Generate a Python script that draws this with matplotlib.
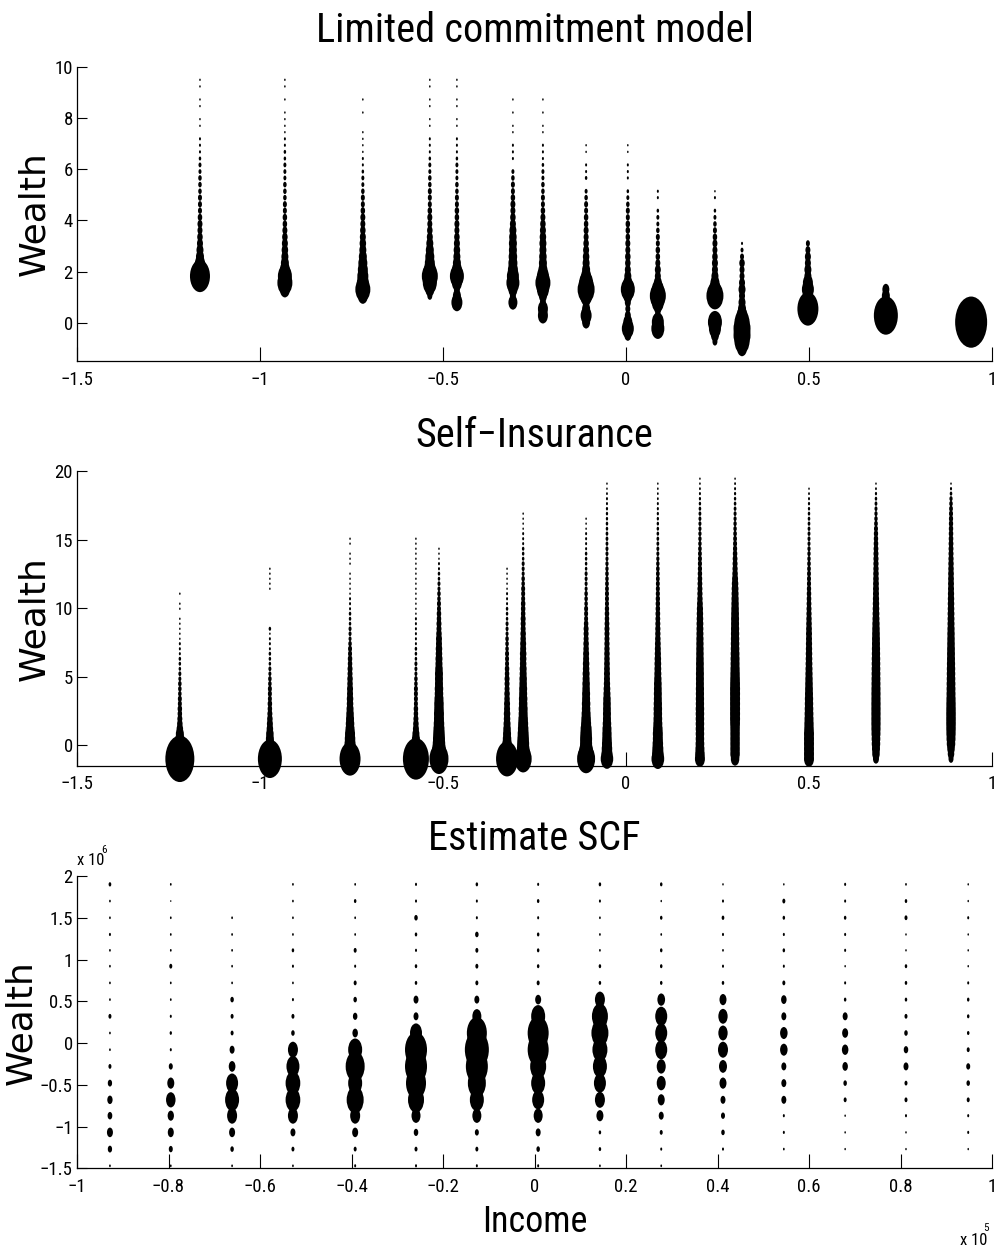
import numpy as np
import matplotlib
matplotlib.use("Agg")
import matplotlib.pyplot as plt
from matplotlib.path import Path
from matplotlib.transforms import Affine2D
from matplotlib.ticker import FixedLocator, FuncFormatter

# ---------------------------------------------------------------------------
# Limited commitment model: wealth grid, income states, density per cell
# ---------------------------------------------------------------------------
lc_wealth = [-1.00, -0.74, -0.49, -0.23, 0.02, 0.28, 0.54, 0.79, 1.05, 1.30,
             1.56, 1.82, 2.07, 2.33, 2.58, 2.84, 3.10, 3.35, 3.61, 3.86,
             4.12, 4.38, 4.63, 4.89, 5.14, 5.40, 5.66, 5.91, 6.17, 6.42,
             6.68, 6.94, 7.19, 7.45, 7.70, 7.96, 8.22, 8.47, 8.73, 8.98,
             9.24, 9.50]
lc_income = [-1.164, -0.932, -0.719, -0.536, -0.462, -0.309, -0.227, -0.109,
             0.005, 0.087, 0.243, 0.317, 0.497, 0.710, 0.943]
lc_density = [
    [0, 0, 0, 0, 0, 0, 0, 0, 0, 0, 10, 20, 14, 10, 8, 7, 6, 5.5, 5, 5, 4.5, 4, 4, 4,
     3.5, 3.5, 3.5, 3, 3, 2.5, 2, 2, 2, 0, 1.5, 1.5, 0, 1.5, 1.5, 0, 1.5, 1.5],
    [0, 0, 0, 0, 0, 0, 0, 0, 0, 10, 15, 14, 10, 8, 7, 6.5, 6, 5.5, 5, 4.5, 4.5, 4, 4,
     3.5, 3.5, 3.5, 3, 3, 3, 2.5, 2.5, 2, 2, 1.5, 1.5, 1.5, 1.5, 0, 1.5, 0, 1.5, 1.5],
    [0, 0, 0, 0, 0, 0, 0, 0, 10, 15, 12, 11, 10, 9, 8, 7, 6.5, 6, 5.5, 5, 5, 4.5, 4,
     4, 3.5, 3, 3, 2.5, 2, 2, 1.5, 1.5, 1.5, 1.5, 0, 0, 1.5, 0, 1.5],
    [0, 0, 0, 0, 0, 0, 0, 0, 5, 9, 14, 16, 12, 10, 9, 8, 7, 6, 5.5, 5, 5, 4.5, 4, 4,
     4, 3.5, 3.5, 3, 3, 2.5, 2, 2, 2, 0, 1.5, 1.5, 0, 1.5, 1.5, 0, 1.5, 1.5],
    [0, 0, 0, 0, 0, 0, 0, 11, 8, 6, 10, 14, 10, 8, 7, 6.5, 6, 5.5, 5, 5, 4.5, 4.5, 4,
     4, 3.5, 3.5, 3, 3, 3, 2.5, 2, 2, 2, 0, 1.5, 1.5, 0, 1.5, 1.5, 0, 1.5, 1.5],
    [0, 0, 0, 0, 0, 0, 0, 9, 6, 9, 13, 12, 10, 9, 8.5, 8, 8, 7.5, 7, 6, 5.5, 5, 5,
     4.5, 4, 4, 3.5, 3, 0, 2, 2, 2, 0, 1.5, 1.5, 0, 1.5, 0, 1.5],
    [0, 0, 0, 0, 0, 10, 10, 6, 8, 12, 15, 12, 9, 8, 7.5, 7, 7, 6.5, 6, 5.5, 5, 4.5,
     4, 4, 3.5, 3.5, 3, 3, 2.5, 2, 2, 2, 0, 1.5, 1.5, 0, 1.5, 0, 1.5],
    [0, 0, 0, 0, 8, 11, 8, 7, 12, 17, 14, 10, 8, 7, 6.5, 6, 5.5, 5, 5, 4.5, 4.5, 4,
     4, 3.5, 3, 0, 2.5, 2, 2, 0, 1.5, 1.5],
    [0, 0, 7, 12, 9, 6, 5, 6, 9, 14, 9, 7, 6, 5.5, 5.5, 5, 5, 4.5, 4.5, 4.5, 4, 4,
     3.5, 3, 2.5, 0, 2, 2, 2, 0, 1.5, 1.5],
    [0, 0, 0, 13, 12, 6, 7, 12, 16, 12, 8, 6, 6, 5, 4.5, 4.5, 4, 4, 3.5, 3, 3, 2.5,
     0, 2, 2],
    [0, 5, 8, 12, 14, 0, 0, 8, 17, 12, 9, 7, 6, 6, 5.5, 5, 5, 4.5, 4, 3.5, 3, 2.5, 0,
     2, 1.5],
    [10, 15, 17, 17, 15, 11, 8, 7, 6, 7, 6, 5, 5, 5.5, 4, 3, 2],
    [0, 0, 0, 0, 0, 0, 21, 14, 10, 12, 10, 7, 7, 6, 6, 5, 4],
    [0, 0, 0, 0, 0, 24, 12, 8, 8, 7],
    [0, 0, 0, 0, 32],
]

# ---------------------------------------------------------------------------
# Self-insurance model
# ---------------------------------------------------------------------------
si_wealth = [-1.00, -0.64, -0.27, 0.10, 0.46, 0.83, 1.19, 1.56, 1.92, 2.29,
             2.65, 3.02, 3.38, 3.75, 4.11, 4.48, 4.84, 5.21, 5.57, 5.94,
             6.30, 6.67, 7.03, 7.40, 7.76, 8.13, 8.49, 8.86, 9.22, 9.59,
             9.95, 10.32, 10.68, 11.05, 11.41, 11.78, 12.14, 12.51, 12.87, 13.24,
             13.60, 13.97, 14.33, 14.70, 15.06, 15.43, 15.79, 16.16, 16.52, 16.89,
             17.25, 17.62, 17.98, 18.35, 18.71, 19.08, 19.44]
si_income = [-1.219, -0.973, -0.754, -0.574, -0.511, -0.325, -0.281, -0.109,
             -0.052, 0.087, 0.202, 0.298, 0.500, 0.683, 0.888]
si_density = [
    [29, 16, 12, 10, 9, 8, 6.5, 5.5, 5, 4.5, 4.5, 4, 4, 3.5, 3.5, 3.5, 3, 3, 2.5,
     2.5, 2.5, 2, 2, 2, 1.5, 1.5, 1.5, 1.5, 1.5, 0, 1.5, 1.5, 0, 1.5],
    [24, 14, 11, 9, 8, 7.5, 6.5, 6, 5.5, 5, 4.5, 4.5, 4, 4, 4, 3.5, 3.5, 3, 3, 2.5,
     2.5, 2.5, 2, 2, 2, 1.5, 2.5, 0, 0, 0, 0, 0, 0, 0, 1.5, 1.5, 1.5, 1.5, 1.5],
    [21, 14, 12, 11, 10.5, 10, 9, 8.5, 8, 7.5, 7, 6.5, 6.5, 6, 6, 5.5, 5.5, 5, 5,
     4.5, 4.5, 4, 4, 3.5, 3, 3, 3, 2.5, 2.5, 2.5, 2, 2, 2, 1.5, 1.5, 1.5, 1.5, 1.5,
     0, 1.5, 1.5, 1.5, 0, 1.5, 1.5],
    [26, 15, 11, 9, 8, 7, 6, 5.5, 5, 4.5, 4.5, 4, 4, 4, 4, 3.5, 3.5, 3, 3, 3, 2.5,
     2.5, 2.5, 2, 2, 2, 2, 2, 2, 1.5, 1.5, 1.5, 1.5, 1.5, 1.5, 1.5, 1.5, 1.5, 1.5,
     1.5, 1.5, 1.5, 1.5, 1.5, 1.5],
    [19, 15, 13.5, 12.5, 12, 11.5, 11, 10.5, 10, 10, 9.5, 9.5, 9, 8.5, 8.5, 8, 8, 8,
     7.5, 7, 7, 6.5, 6.5, 6, 6, 5.5, 5, 5, 4.5, 4.5, 4, 4, 3.5, 3.5, 3, 3, 2.5, 2.5,
     2, 2, 1.5, 1.5, 1.5],
    [22, 14, 11, 9.5, 8.5, 8, 7.5, 7, 6.5, 6.5, 6, 6, 5.5, 5.5, 5, 5, 5, 4.5, 4.5,
     4, 4, 4, 3.5, 3.5, 3.5, 3, 3, 3, 2.5, 2.5, 2.5, 2, 2, 2, 1.5, 1.5, 1.5, 1.5,
     1.5],
    [17, 14, 12.5, 12, 11.5, 11, 10.5, 10, 9.5, 9, 9, 8.5, 8.5, 8, 8, 7.5, 7.5, 7,
     7, 6.5, 6.5, 6.5, 6, 6, 5.5, 5.5, 5, 5, 5, 4.5, 4.5, 4.5, 4, 4, 4, 3.5, 3.5, 3,
     3, 3, 2.5, 2.5, 2.5, 2, 2, 2, 1.5, 1.5, 1.5, 1.5],
    [18, 15, 13, 12, 12, 11.5, 11, 10, 9.5, 9, 8.5, 8.5, 8, 8, 7.5, 7.5, 7, 7, 6.5,
     6.5, 6, 6, 5.5, 5.5, 5, 5, 5, 4.5, 4, 4, 4, 3.5, 3.5, 3.5, 3, 3, 3, 3, 2.5,
     2.5, 2.5, 2.5, 2, 2, 2, 2, 1.5, 1.5, 1.5],
    [12.5, 11, 10.5, 10, 9.5, 9.3, 9, 8.5, 8, 8, 7.8, 7.7, 7.5, 7, 6.7, 6.3, 6, 6,
     5.8, 5.7, 5.5, 5.5, 5.3, 5.2, 5, 5, 5, 4.8, 4.5, 4.5, 4.3, 4, 4, 4, 3.8, 3.7,
     3.5, 3.5, 3.3, 3.2, 3, 3, 3, 2.8, 2.8, 2.7, 2.5, 2.5, 2.3, 2.3, 2.2, 2, 2, 1.8,
     1.5, 1.5],
    [12.7, 11.5, 11, 10.5, 10, 10, 9.5, 9, 8.7, 8.5, 8.5, 8.3, 8, 8, 7.8, 7.7, 7.3,
     7, 6.8, 6.7, 6.5, 6.2, 6, 5.8, 5.5, 5.3, 5.2, 5, 4.8, 4.7, 4.5, 4.4, 4.3, 4.1,
     4, 3.9, 3.8, 3.7, 3.6, 3.4, 3.2, 3, 2.9, 2.8, 2.7, 2.6, 2.5, 2.4, 2.3, 2.2,
     2.1, 2, 1.8, 1.7, 1.6, 1.5],
    [10, 9.5, 9, 8.7, 8.5, 8.5, 8.5, 8.5, 8.5, 8.5, 8.5, 8.3, 8.3, 8.2, 8.2, 8, 8,
     8, 7.8, 7.8, 7.6, 7.5, 7.4, 7.3, 7.2, 7, 6.9, 6.8, 6.6, 6.4, 6.2, 5.8, 5.4,
     5.2, 5, 4.8, 4.6, 4.4, 4.2, 4.1, 4, 3.8, 3.6, 3.4, 3.3, 3.2, 3.1, 3, 2.9, 2.8,
     2.6, 2.4, 2.2, 2, 1.8, 1.6, 1.5],
    [8.5, 9.5, 9.5, 9.5, 9.5, 9.5, 9.5, 9.8, 10, 10, 10, 10, 10, 10, 10, 9.8, 9.6,
     9.4, 9.2, 9, 9, 8.8, 8.6, 8.5, 8.4, 8.3, 8.2, 8, 8, 7.8, 7.6, 7.4, 7.2, 7, 6.8,
     6.5, 6, 5.5, 5.2, 5, 4.8, 4.5, 4.2, 4, 3.8, 3.6, 3.4, 3.3, 3.1, 3, 2.8, 2.6,
     2.4, 2.2, 2, 1.8, 1.5],
    [10, 10, 10, 10, 10, 10, 9.5, 9.3, 9, 8.8, 8.6, 8.4, 8.3, 8, 7.8, 7.6, 7.4, 7.2,
     7, 6.8, 6.6, 6.5, 6.3, 6.2, 6, 6, 5.8, 5.6, 5.4, 5.2, 5, 4.8, 4.6, 4.5, 4.3,
     4.1, 4, 3.9, 3.7, 3.6, 3.4, 3.3, 3.2, 3, 3, 2.9, 2.8, 2.7, 2.6, 2.5, 2.3, 2.2,
     2, 1.8, 1.5],
    [6, 7.5, 8, 8.5, 8.7, 9, 9.2, 9.3, 9.3, 9.3, 9.3, 9.3, 9.2, 9.2, 9.1, 9, 8.9,
     8.8, 8.7, 8.6, 8.5, 8.3, 8.2, 8, 7.9, 7.7, 7.5, 7.3, 7, 6.8, 6.6, 6.4, 6.2, 6,
     5.9, 5.8, 5.6, 5.5, 5.3, 5.2, 5.1, 5, 4.8, 4.6, 4.4, 4.3, 4, 3.7, 3.4, 3.2, 3,
     2.8, 2.5, 2.2, 1.8, 1.5],
    [5, 6.5, 7.5, 8.5, 9, 9.3, 9.5, 9.6, 9.6, 9.6, 9.5, 9.4, 9.2, 9, 8.9, 8.8, 8.6,
     8.5, 8.4, 8.2, 8, 7.9, 7.8, 7.6, 7.5, 7.4, 7.2, 7, 6.9, 6.8, 6.6, 6.5, 6.4, 6.2,
     6, 5.9, 5.8, 5.7, 5.5, 5.4, 5.2, 5, 4.9, 4.8, 4.6, 4.5, 4.4, 4.3, 4.2, 4, 3.8,
     3.5, 3.2, 2.6, 2.1, 1.5],
]

# ---------------------------------------------------------------------------
# SCF estimate (wealth in units of 1e6, income in units of 1e5)
# ---------------------------------------------------------------------------
scf_wealth = [-1.47, -1.27, -1.07, -0.87, -0.68, -0.48, -0.28, -0.08, 0.12,
              0.32, 0.52, 0.72, 0.92, 1.11, 1.30, 1.50, 1.70, 1.90]
scf_income = [-0.928, -0.795, -0.661, -0.528, -0.392, -0.259, -0.126, 0.008,
              0.143, 0.277, 0.412, 0.545, 0.679, 0.812, 0.948]
scf_density = [
    [1.7, 4.3, 6, 4.7, 5.3, 4.3, 3, 1.7, 1.7, 3, 1.7, 1.7, 1.7, 1.7, 2, 1.7, 1.7, 2.7],
    [1.7, 4, 6, 6.3, 9.5, 7, 4, 2, 2.3, 2, 1.7, 1.7, 3, 1.7, 1.7, 1.7, 1.2, 1.7],
    [1.7, 3.5, 6, 10, 14, 12, 6.7, 5, 3, 3, 3.5, 1.7, 1.7, 1.7, 1.7, 1.7, 0, 0],
    [1.7, 3, 5, 10, 14.7, 14.7, 13, 10, 3.5, 3, 2, 1.7, 2, 2.5, 1.7, 1.7, 1.7, 1.7],
    [2, 3, 6, 10, 17, 14, 19, 14, 5.5, 4.5, 3.5, 3, 2, 3, 1.7, 1.7, 2.5, 1.7],
    [2, 3, 4.5, 9, 16, 20, 22, 22, 12, 5, 5, 2.5, 2.5, 2, 2.5, 3.5, 2, 2],
    [2, 3, 4, 9, 14, 18, 22, 24, 20, 9, 5, 3, 3, 3, 3.5, 2, 2, 2.5],
    [2, 3.5, 5, 9, 12, 14, 16, 21, 21, 14, 6, 3, 2.5, 2.5, 2.5, 2, 2.5, 2],
    [1.7, 2.5, 2.5, 7, 10, 12, 14, 15, 17, 16, 10, 2.5, 2.5, 1.7, 1.7, 1.7, 2, 2.5],
    [1.7, 2, 3, 5, 7, 9, 9, 12, 12, 12, 7.7, 2.5, 2.5, 2.5, 1.7, 2.5, 1.5, 2.5],
    [0, 2, 3.5, 4, 5, 7, 8, 10, 9.3, 9.3, 7, 2.5, 2, 1.7, 2, 2.7, 2, 1.5],
    [0, 1.7, 2, 2, 5, 5, 5, 7.5, 7.5, 5, 5.5, 3, 2, 2.5, 2, 2.5, 3, 1.5],
    [0, 1.5, 1.5, 1.5, 3, 3.5, 5.5, 6.5, 6, 5, 2.5, 2, 1.5, 2, 2, 2.5, 2, 2],
    [0, 1.5, 1.5, 2, 3, 3, 5, 4.5, 3.5, 3, 2.5, 2.5, 2.5, 1.5, 1.5, 3, 2.5, 1.7],
    [0, 1.5, 2, 2, 3, 3.5, 4, 3, 2.5, 2.5, 2.5, 2, 1.5, 1.5, 1.5, 2, 1.5, 1.5],
]

titles = ["Limited commitment model", "Self\u2212Insurance", "Estimate SCF"]

# ---------------------------------------------------------------------------
NARROW = ["Liberation Sans Narrow", "Roboto Condensed", "DejaVu Sans Condensed",
          "Liberation Sans", "DejaVu Sans"]
plt.rcParams["font.family"] = NARROW

DPI = 100
W, H = 997, 1248
ASPECT = 1.6                      # bubbles are taller than wide
ELLIPSE = Path.unit_circle().transformed(Affine2D().scale(1.0 / ASPECT, 1.0))
PT_PER_UNIT = 72.0 / DPI          # one density unit -> one pixel of bubble width


def bubble_panel(ax, income, wealth, density):
    xs, ys, ss = [], [], []
    for x, column in zip(income, density):
        for y, d in zip(wealth, column):
            if d > 0:
                xs.append(x)
                ys.append(y)
                ss.append((ASPECT * d * PT_PER_UNIT) ** 2)
    ax.scatter(xs, ys, s=ss, marker=ELLIPSE, c="black", linewidths=0,
               clip_on=False, zorder=3)


def fmt(v, _pos):
    return ("%g" % round(v, 6)).replace("-", "\u2212")


fig = plt.figure(figsize=(W / DPI, H / DPI), dpi=DPI)

panels = [
    dict(rect=(77, 67, 992, 361), data=(lc_income, lc_wealth, lc_density),
         xlim=(-1.5, 1), ylim=(-1.5, 10),
         xticks=[-1.5, -1, -0.5, 0, 0.5, 1], yticks=[0, 2, 4, 6, 8, 10],
         title_base=41.7, label_x=34.5),
    dict(rect=(77, 471, 992, 765.7), data=(si_income, si_wealth, si_density),
         xlim=(-1.5, 1), ylim=(-1.5, 20),
         xticks=[-1.5, -1, -0.5, 0, 0.5, 1], yticks=[0, 5, 10, 15, 20],
         title_base=447, label_x=34.5),
    dict(rect=(77, 876, 992, 1168.3), data=(scf_income, scf_wealth, scf_density),
         xlim=(-1, 1), ylim=(-1.5, 2),
         xticks=[-1, -0.8, -0.6, -0.4, -0.2, 0, 0.2, 0.4, 0.6, 0.8, 1],
         yticks=[-1.5, -1, -0.5, 0, 0.5, 1, 1.5, 2],
         title_base=850, label_x=21),
]

for p, title in zip(panels, titles):
    x0, y0, x1, y1 = p["rect"]
    ax = fig.add_axes([x0 / W, 1 - y1 / H, (x1 - x0) / W, (y1 - y0) / H])
    ax.set_xlim(*p["xlim"])
    ax.set_ylim(*p["ylim"])
    bubble_panel(ax, *p["data"])

    for side in ("top", "right"):
        ax.spines[side].set_visible(False)
    for side in ("left", "bottom"):
        ax.spines[side].set_linewidth(0.9)
        ax.spines[side].set_color("black")
        ax.spines[side].set_zorder(2)

    ax.xaxis.set_major_locator(FixedLocator(p["xticks"]))
    ax.yaxis.set_major_locator(FixedLocator(p["yticks"]))
    ax.xaxis.set_major_formatter(FuncFormatter(fmt))
    ax.yaxis.set_major_formatter(FuncFormatter(fmt))
    ax.tick_params(axis="x", direction="in", length=10, width=0.8, pad=7,
                   labelsize=13.5, color="black")
    ax.tick_params(axis="y", direction="in", length=7, width=0.8, pad=3,
                   labelsize=13.5, color="black")
    ax.patch.set_alpha(0)

    fig.text(534.5 / W, 1 - p["title_base"] / H, title, ha="center",
             va="baseline", fontsize=29)
    fig.text(p["label_x"] / W, 1 - (y0 + y1) / 2 / H, "Wealth", rotation=90,
             ha="center", va="center", fontsize=26, family="DejaVu Sans")

# axis multipliers of the SCF panel
fig.text(77 / W, 1 - 865 / H, "x 10", ha="left", va="baseline", fontsize=12)
fig.text(101 / W, 1 - 853 / H, "6", ha="left", va="baseline", fontsize=8)
fig.text(960 / W, 1 - 1245 / H, "x 10", ha="left", va="baseline", fontsize=12)
fig.text(983.5 / W, 1 - 1231 / H, "5", ha="left", va="baseline", fontsize=8)

fig.text(534.5 / W, 1 - 1232 / H, "Income", ha="center", va="baseline",
         fontsize=26)

fig.savefig("out.png", dpi=DPI)
